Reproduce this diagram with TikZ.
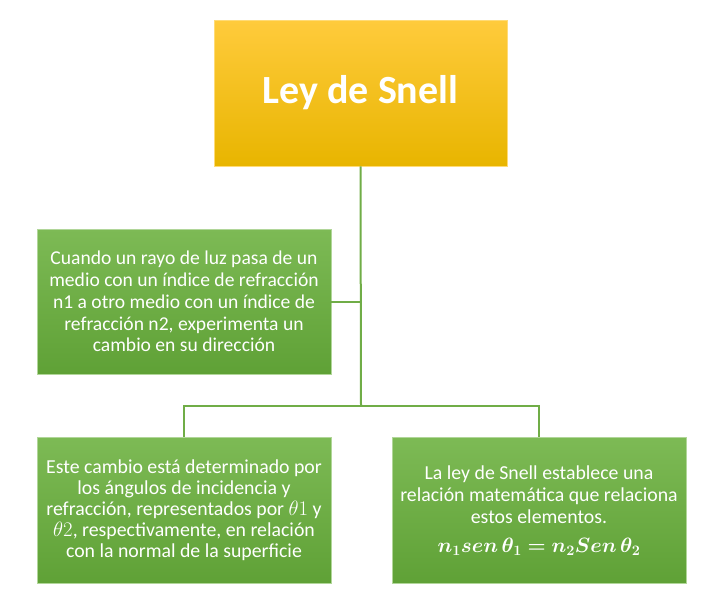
\documentclass[tikz,border=0pt]{standalone}
\usepackage{amsmath, bm}
\usepackage{fontspec}
\setmainfont{Carlito}
\usetikzlibrary{positioning, calc}
\definecolor{snellgoldtop}{HTML}{FFCB3C}
\definecolor{snellgoldbot}{HTML}{E8B500}
\definecolor{snellgreen}{HTML}{70AD47}
\definecolor{snellgreentop}{HTML}{7DBA55}
\definecolor{snellgreenbot}{HTML}{5FA136}

\begin{document}
\begin{tikzpicture}[
      x=1pt, y=-1pt,
      every node/.style={text=white, font=\fontsize{19.6}{21.8}\selectfont},
      box/.style={draw=snellgreentop!60!white, line width=0.9pt, top color=snellgreentop, bottom color=snellgreenbot, minimum width=294pt, minimum height=146pt, inner sep=2pt, align=center},
      link/.style={draw=snellgreen, line width=2pt},
    ]
    \useasboundingbox (0,0) rectangle (720,592);

    \node[draw=snellgoldtop!70!white, line width=0.9pt, top color=snellgoldtop, bottom color=snellgoldbot, minimum width=293pt, minimum height=146pt, font=\fontsize{40}{44}\selectfont\bfseries] (title) at (360.5,93) {Ley de Snell};

    \node[box, minimum height=145pt] (rule) at (184,301.5) {Cuando un rayo de luz pasa de un\\medio con un índice de refracción\\n1 a otro medio con un índice de\\refracción n2, experimenta un\\cambio en su dirección};

    \node[box, font=\fontsize{19.8}{21}\selectfont] (angles) at (184,510.5) {Este cambio está determinado por\\los ángulos de incidencia y\\refracción, representados por $\theta1$ y\\$\theta2$, respectivamente, en relación\\con la normal de la superficie};

    \node[box, font=\fontsize{19.8}{22}\selectfont] (law) at (539,510.5) {La ley de Snell establece una\\relación matemática que relaciona\\estos elementos.\\[7pt]{\fontsize{19.3}{24}\selectfont$\bm{n_1 sen\,\theta_1 = n_2 Sen\,\theta_2}$}};

    \coordinate (hub) at (361,406);

    \draw[link] (title.south) -- (hub);
    \draw[link] (rule.east) -- (rule.east -| hub);
    \draw[link] (hub) -| (angles.north);
    \draw[link] (hub) -| (law.north);
  \end{tikzpicture}
\end{document}
